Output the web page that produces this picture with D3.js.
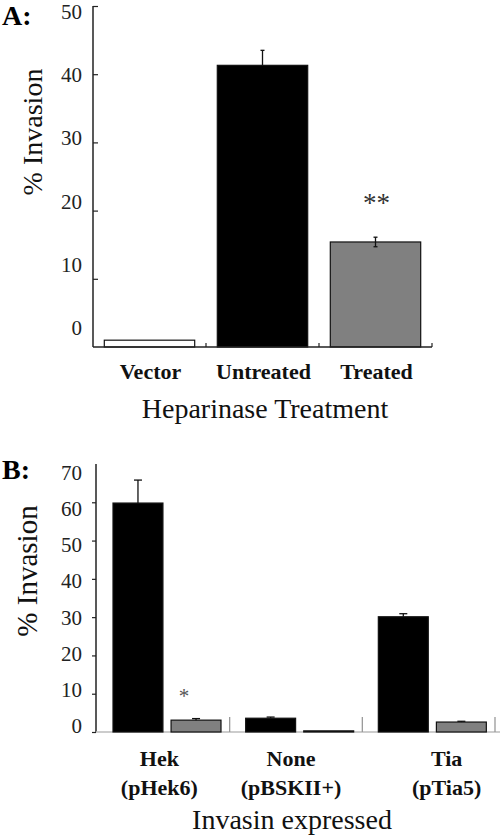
<!DOCTYPE html>
<html><head><meta charset="utf-8">
<script src="https://cdn.jsdelivr.net/npm/d3@7"></script>
<style>body{margin:0;background:#fff}svg{display:block}text{font-family:"Liberation Serif","Times New Roman",serif}</style>
</head><body>
<script>
// Panel A data
const categoriesA = ["Vector", "Untreated", "Treated"];
const valuesA = [1.0, 41.3, 15.4];
const errorsA = [0, 2.2, 0.7];
const errBothA = [false, false, true];
const fillsA = ["#ffffff", "#000000", "#808080"];
const ticksA = [0, 10, 20, 30, 40, 50];

// Panel B data
const groupsB = ["Hek", "None", "Tia"];
const groupSubB = ["(pHek6)", "(pBSKII+)", "(pTia5)"];
const seriesB = ["untreated", "treated"];
const valuesBlackB = [59.8, 3.6, 30.1];
const valuesGrayB = [3.1, 0.3, 2.6];
const errorsBlackB = [6.0, 0.3, 0.8];
const errorsGrayB = [0.4, 0, 0.2];
const ticksB = [0, 10, 20, 30, 40, 50, 60, 70];

const W = 500, H = 839;
const svg = d3.select("body").append("svg").attr("width", W).attr("height", H);

// ---------- Panel A ----------
const yA = d3.scaleLinear().domain([0, 50]).range([347, 6]);
const yLabA = d3.scaleLinear().domain([0, 50]).range([328, 12]);
const xA = d3.scaleBand().domain(categoriesA).range([93, 432]).paddingInner(0.2).paddingOuter(0.1);
const gA = svg.append("g");

gA.append("text").attr("x", 2).attr("y", 25).attr("font-size", 28).attr("font-weight", "bold").text("A:");

// y axis
const axA = gA.append("g").attr("transform", "translate(93,0)")
  .call(d3.axisRight(yA).tickValues(ticksA.filter(d => d > 0)).tickSize(5).tickFormat(""));
axA.select(".domain").attr("stroke", "#222").attr("stroke-width", 1.5).attr("d", `M0,${yA(50)}V${yA(0)}`);
axA.selectAll(".tick line").attr("stroke", "#222").attr("stroke-width", 1.2);
gA.selectAll(".ylabA").data(ticksA).join("text")
  .attr("x", 82).attr("y", d => yLabA(d)).attr("text-anchor", "end").attr("dominant-baseline", "central")
  .attr("font-size", 21).attr("fill", "#222").text(d => d);

// bars
gA.selectAll(".barA").data(categoriesA).join("rect")
  .attr("x", d => xA(d)).attr("width", xA.bandwidth())
  .attr("y", (d, i) => yA(valuesA[i])).attr("height", (d, i) => yA(0) - yA(valuesA[i]))
  .attr("fill", (d, i) => fillsA[i]).attr("stroke", "#111").attr("stroke-width", 1.2);

// error bars
categoriesA.forEach((c, i) => {
  if (errorsA[i] <= 0) return;
  const cx = xA(c) + xA.bandwidth() / 2;
  const top = yA(valuesA[i] + errorsA[i]);
  const bot = errBothA[i] ? yA(valuesA[i] - errorsA[i]) : yA(valuesA[i]);
  gA.append("line").attr("x1", cx).attr("x2", cx).attr("y1", top).attr("y2", bot).attr("stroke", "#111").attr("stroke-width", 1.3);
  gA.append("line").attr("x1", cx - 2).attr("x2", cx + 2).attr("y1", top).attr("y2", top).attr("stroke", "#111").attr("stroke-width", 1.3);
  if (errBothA[i]) gA.append("line").attr("x1", cx - 2).attr("x2", cx + 2).attr("y1", bot).attr("y2", bot).attr("stroke", "#111").attr("stroke-width", 1.3);
});

// x axis
gA.append("line").attr("x1", 93).attr("x2", 432).attr("y1", yA(0)).attr("y2", yA(0)).attr("stroke", "#222").attr("stroke-width", 1.5);
const sepA = categoriesA.map((c, i) => xA(c) + xA.step() - xA.paddingInner() * xA.step() / 2);
gA.selectAll(".sepA").data(sepA).join("line")
  .attr("x1", d => d).attr("x2", d => d).attr("y1", yA(0)).attr("y2", yA(0) - 4)
  .attr("stroke", "#222").attr("stroke-width", 1.2);

gA.selectAll(".catA").data(categoriesA).join("text")
  .attr("x", d => xA(d) + xA.bandwidth() / 2 + 1).attr("y", 379)
  .attr("text-anchor", "middle").attr("font-size", 22).attr("font-weight", "bold").attr("fill", "#111").text(d => d);

gA.append("text").attr("x", 265).attr("y", 418).attr("text-anchor", "middle").attr("font-size", 28).attr("fill", "#111").text("Heparinase Treatment");

gA.append("text").attr("transform", "translate(32,132) rotate(-90)").attr("text-anchor", "middle").attr("dominant-baseline", "central")
  .attr("font-size", 28).attr("fill", "#111").text("% Invasion");

gA.append("text").attr("x", xA("Treated") + xA.bandwidth() / 2 + 1).attr("y", 212).attr("text-anchor", "middle")
  .attr("font-size", 27).attr("fill", "#333").text("**");

// ---------- Panel B ----------
const yB = d3.scaleLinear().domain([0, 70]).range([732, 464]);
const yLabB = d3.scaleLinear().domain([0, 70]).range([726, 473]);
const xB = d3.scaleBand().domain(groupsB).range([97, 495]);
const xSub = d3.scaleBand().domain(seriesB).range([16, 124]).paddingInner(0.14);
const gB = svg.append("g");

gB.append("text").attr("x", 2).attr("y", 479).attr("font-size", 28).attr("font-weight", "bold").text("B:");

const axB = gB.append("g").attr("transform", "translate(96,0)")
  .call(d3.axisLeft(yB).tickValues(ticksB.filter(d => d < 70)).tickSize(4).tickFormat(""));
axB.select(".domain").attr("stroke", "#222").attr("stroke-width", 1.5).attr("d", `M0,${yB(70)}V${yB(0)}`);
axB.selectAll(".tick line").attr("stroke", "#222").attr("stroke-width", 1.2);
gB.selectAll(".ylabB").data(ticksB).join("text")
  .attr("x", 82).attr("y", d => yLabB(d)).attr("text-anchor", "end").attr("dominant-baseline", "central")
  .attr("font-size", 21).attr("fill", "#222").text(d => d);

// baseline (gray) and separators
gB.append("line").attr("x1", 96).attr("x2", 500).attr("y1", yB(0)).attr("y2", yB(0)).attr("stroke", "#bbb").attr("stroke-width", 1.5);
gB.selectAll(".sepB").data(groupsB).join("line")
  .attr("x1", d => xB(d) + xB.step()).attr("x2", d => xB(d) + xB.step())
  .attr("y1", yB(0)).attr("y2", yB(0) - 15).attr("stroke", "#999").attr("stroke-width", 1.3);

const drawB = (vals, errs, key, fill) => {
  groupsB.forEach((g, i) => {
    const x0 = xB(g) + xSub(key), w = xSub.bandwidth();
    gB.append("rect").attr("x", x0).attr("width", w)
      .attr("y", yB(vals[i])).attr("height", Math.max(1, yB(0) - yB(vals[i])))
      .attr("fill", fill).attr("stroke", "#111").attr("stroke-width", 1.2);
    if (errs[i] > 0) {
      const cx = x0 + w / 2, top = yB(vals[i] + errs[i]);
      gB.append("line").attr("x1", cx).attr("x2", cx).attr("y1", top).attr("y2", yB(vals[i])).attr("stroke", "#111").attr("stroke-width", 1.3);
      gB.append("line").attr("x1", cx - 4).attr("x2", cx + 4).attr("y1", top).attr("y2", top).attr("stroke", "#111").attr("stroke-width", 1.3);
    }
  });
};
drawB(valuesBlackB, errorsBlackB, "untreated", "#000000");
drawB(valuesGrayB, errorsGrayB, "treated", "#808080");

gB.append("text").attr("x", xB("Hek") + xSub("treated") + xSub.bandwidth() / 2 - 12).attr("y", 703).attr("text-anchor", "middle")
  .attr("font-size", 21).attr("fill", "#555").text("*");

const nudge = [-4, -5, 18];
gB.selectAll(".catB").data(groupsB).join("text")
  .attr("x", (d, i) => xB(d) + xB.step() / 2 + nudge[i]).attr("y", 766)
  .attr("text-anchor", "middle").attr("font-size", 22).attr("font-weight", "bold").attr("fill", "#111").text(d => d);
gB.selectAll(".subB").data(groupSubB).join("text")
  .attr("x", (d, i) => xB(groupsB[i]) + xB.step() / 2 + nudge[i]).attr("y", 795)
  .attr("text-anchor", "middle").attr("font-size", 22).attr("font-weight", "bold").attr("fill", "#111").text(d => d);

gB.append("text").attr("x", 292).attr("y", 829).attr("text-anchor", "middle").attr("font-size", 28).attr("fill", "#111").text("Invasin expressed");

gB.append("text").attr("transform", "translate(27,571) rotate(-90)").attr("text-anchor", "middle").attr("dominant-baseline", "central")
  .attr("font-size", 29).attr("fill", "#111").text("% Invasion");
</script>
</body></html>
